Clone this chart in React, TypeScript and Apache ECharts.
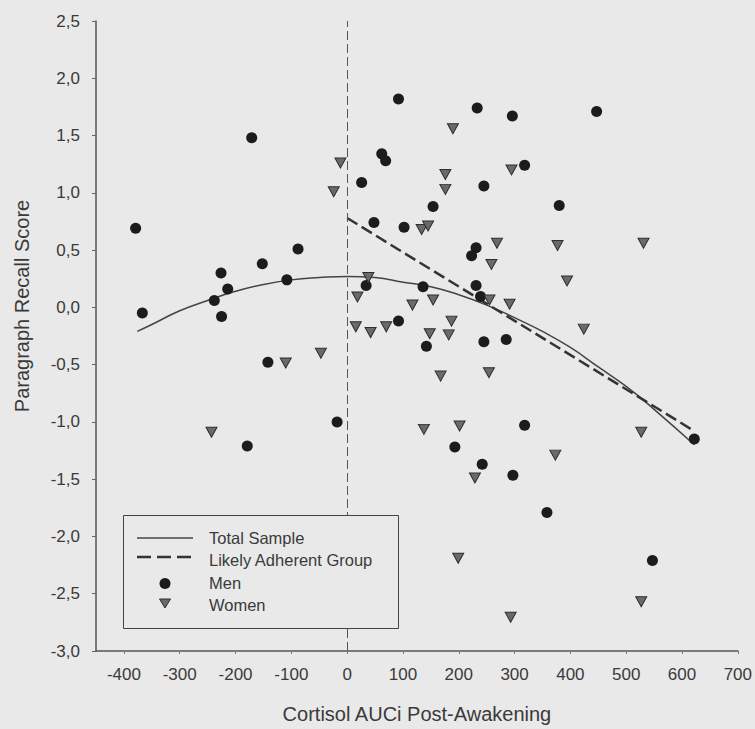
import React, { useEffect, useRef } from "react";
import * as echarts from "echarts";

const xTicks = [-400, -300, -200, -100, 0, 100, 200, 300, 400, 500, 600, 700];

const menX = [-379, -367, -171, -226, -214, -238, -225, -152, -108, -88, -142, -179, -18, 26, 48, 34, 62, 69, 92, 102, 92, 136, 142, 154, 193, 231, 223, 231, 239, 233, 245, 245, 242, 285, 296, 297, 318, 318, 358, 380, 447, 547, 622];
const menY = [0.69, -0.05, 1.48, 0.30, 0.16, 0.06, -0.08, 0.38, 0.24, 0.51, -0.48, -1.21, -1.0, 1.09, 0.74, 0.19, 1.34, 1.28, 1.82, 0.70, -0.12, 0.18, -0.34, 0.88, -1.22, 0.52, 0.45, 0.19, 0.095, 1.74, 1.06, -0.30, -1.37, -0.28, 1.67, -1.465, 1.24, -1.03, -1.79, 0.89, 1.71, -2.21, -1.15];

const womenX = [-243, -110, -47, -24, -12, 15.5, 18.5, 38, 42, 70, 117, 133.5, 145, 137.5, 148, 154, 167.5, 176, 176, 182, 187, 189.5, 199, 201.5, 229, 254, 255, 258.5, 268.5, 291, 293, 294.5, 373, 377, 394, 424, 527, 527, 531];
const womenY = [-1.09, -0.485, -0.40, 1.01, 1.26, -0.17, 0.09, 0.26, -0.22, -0.17, 0.02, 0.68, 0.71, -1.065, -0.23, 0.065, -0.60, 1.16, 1.03, -0.24, -0.12, 1.56, -2.19, -1.035, -1.49, -0.57, 0.065, 0.375, 0.56, 0.028, -2.705, 1.2, -1.29, 0.54, 0.23, -0.19, -1.09, -2.57, 0.56];

const totalX = [-376, -350, -300, -250, -200, -150, -100, -50, 0, 50, 100, 150, 200, 250, 300, 350, 400, 450, 500, 550, 622];
const totalY = [-0.21, -0.15, -0.03, 0.06, 0.14, 0.20, 0.24, 0.26, 0.27, 0.26, 0.22, 0.18, 0.11, 0.02, -0.09, -0.21, -0.35, -0.52, -0.69, -0.89, -1.2];

const adherentX = [0, 622];
const adherentY = [0.78, -1.08];

const FONT = "'Liberation Sans', Arial, sans-serif";
const BG = "#e9e9e9";
const INK = "#3a3a3a";

export default function App() {
  const ref = useRef<HTMLDivElement>(null);
  useEffect(() => {
    if (!ref.current) return;
    const chart = echarts.init(ref.current, null, { renderer: "svg" });
    const zip = (xs: number[], ys: number[]) => xs.map((x, i) => [x, ys[i]]);
    const legendText = (y: number, t: string) => ({
      type: "text",
      z: 101,
      x: 209,
      y,
      style: { text: t, fill: INK, font: `16.5px ${FONT}`, textVerticalAlign: "middle" },
    });
    chart.setOption({
      animation: false,
      backgroundColor: BG,
      textStyle: { fontFamily: FONT },
      grid: { left: 96, right: 17, top: 21, bottom: 76 },
      xAxis: {
        type: "value",
        min: -450,
        max: 700,
        name: "Cortisol AUCi Post-Awakening",
        nameLocation: "middle",
        nameGap: 53,
        nameTextStyle: { fontSize: 20, color: INK, fontFamily: FONT },
        splitLine: { show: false },
        axisLine: { show: true, onZero: false, lineStyle: { color: "#555", width: 1.5 } },
        axisTick: { show: true, length: 3, customValues: xTicks, lineStyle: { color: "#777" } },
        axisLabel: { customValues: xTicks, fontSize: 17, color: INK, margin: 15, fontFamily: FONT },
      },
      yAxis: {
        type: "value",
        min: -3,
        max: 2.5,
        interval: 0.5,
        name: "Paragraph Recall Score",
        nameLocation: "middle",
        nameGap: 64,
        nameTextStyle: { fontSize: 20, color: INK, fontFamily: FONT, padding: [0, 0, 0, 60] },
        splitLine: { show: false },
        axisLine: { show: true, onZero: false, lineStyle: { color: "#555", width: 1.5 } },
        axisTick: { show: true, length: 4, lineStyle: { color: "#666" } },
        axisLabel: {
          fontSize: 17,
          color: INK,
          margin: 16,
          fontFamily: FONT,
          formatter: (v: number) => v.toFixed(1).replace(".", ","),
        },
      },
      series: [
        {
          name: "Total Sample",
          type: "line",
          smooth: true,
          showSymbol: false,
          symbol: "none",
          data: zip(totalX, totalY),
          lineStyle: { color: "#444", width: 1.5 },
          z: 3,
          markLine: {
            silent: true,
            symbol: "none",
            label: { show: false },
            lineStyle: { color: "#555", width: 1, type: [9, 4] },
            data: [{ xAxis: 0 }],
          },
        },
        {
          name: "Likely Adherent Group",
          type: "line",
          symbol: "none",
          data: zip(adherentX, adherentY),
          lineStyle: { color: "#333", width: 2.5, type: [12, 5] },
          z: 3,
        },
        {
          name: "Men",
          type: "scatter",
          symbol: "circle",
          symbolSize: 11,
          data: zip(menX, menY),
          itemStyle: { color: "#1c1c1c", opacity: 1 },
          z: 4,
        },
        {
          name: "Women",
          type: "scatter",
          symbol: "triangle",
          symbolRotate: 180,
          symbolSize: [11, 10],
          data: zip(womenX, womenY),
          itemStyle: { color: "#6a6a6a", borderColor: "#2e2e2e", borderWidth: 1, opacity: 1 },
          z: 4,
        },
      ],
      graphic: [
        {
          type: "rect",
          z: 100,
          shape: { x: 123.5, y: 515.5, width: 275, height: 113 },
          style: { fill: BG, stroke: "#444", lineWidth: 1 },
        },
        {
          type: "line",
          z: 101,
          shape: { x1: 137, y1: 538, x2: 193, y2: 538 },
          style: { stroke: "#444", lineWidth: 1.5 },
        },
        {
          type: "line",
          z: 101,
          shape: { x1: 137, y1: 557, x2: 193, y2: 557 },
          style: { stroke: "#333", lineWidth: 2.5, lineDash: [14, 6] },
        },
        {
          type: "circle",
          z: 101,
          shape: { cx: 165, cy: 583.5, r: 5.5 },
          style: { fill: "#1c1c1c" },
        },
        {
          type: "polygon",
          z: 101,
          shape: { points: [[159.5, 599], [170.5, 599], [165, 608]] },
          style: { fill: "#6a6a6a", stroke: "#2e2e2e", lineWidth: 1 },
        },
        legendText(538, "Total Sample"),
        legendText(560, "Likely Adherent Group"),
        legendText(583, "Men"),
        legendText(604.5, "Women"),
      ],
    });
    return () => chart.dispose();
  }, []);
  return (
    <div
      ref={ref}
      style={{ position: "absolute", left: 0, top: 0, width: 755, height: 729 }}
    />
  );
}
